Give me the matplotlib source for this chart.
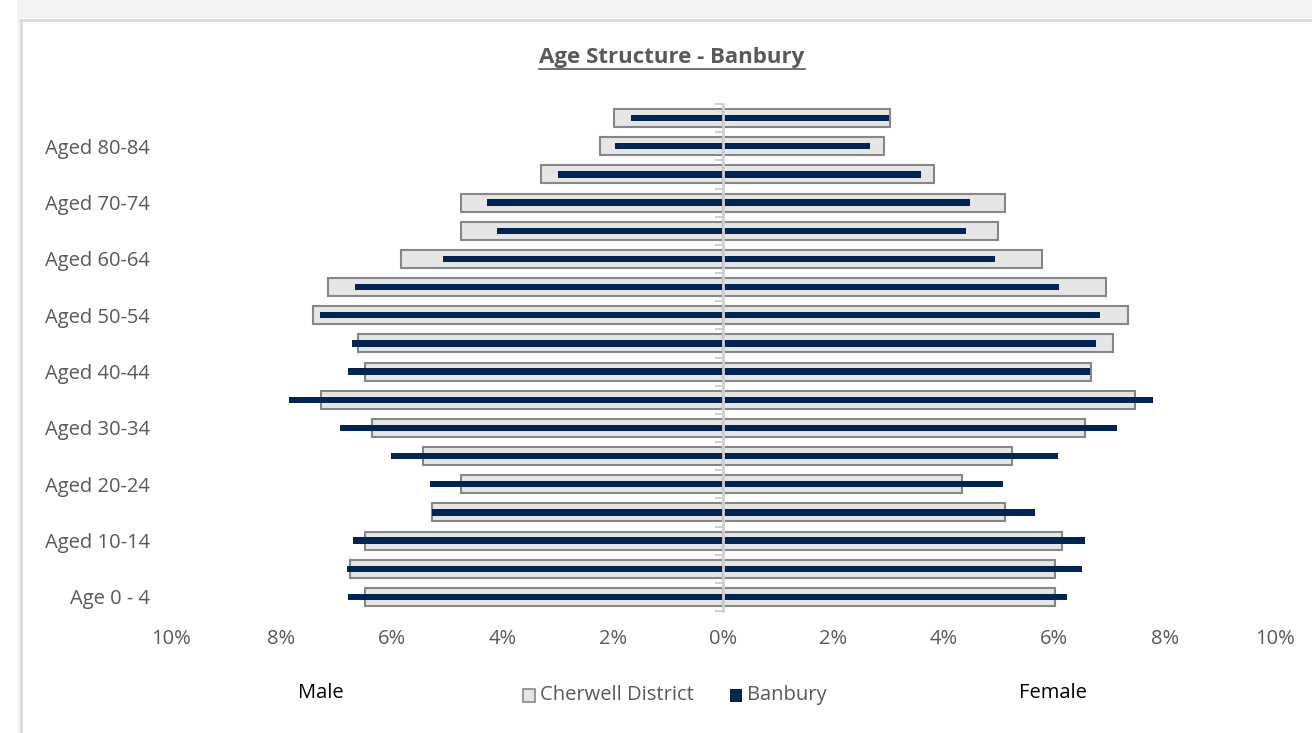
import numpy as np
import matplotlib.pyplot as plt
from matplotlib.patches import Rectangle
from matplotlib.lines import Line2D

plt.rcParams['font.family'] = ['Open Sans', 'DejaVu Sans']

ages = ["Age 0 - 4", "Aged 5-9", "Aged 10-14", "Aged 15-19", "Aged 20-24", "Aged 25-29",
        "Aged 30-34", "Aged 35-39", "Aged 40-44", "Aged 45-49", "Aged 50-54", "Aged 55-59",
        "Aged 60-64", "Aged 65-69", "Aged 70-74", "Aged 75-79", "Aged 80-84", "Aged 85+"]

# percentages of total population
cherwell_male = [6.49, 6.76, 6.49, 5.28, 4.75, 5.43, 6.36, 7.29, 6.49, 6.62,
                 7.43, 7.16, 5.83, 4.75, 4.75, 3.30, 2.23, 1.98]
banbury_male = [6.79, 6.82, 6.70, 5.27, 5.31, 6.02, 6.93, 7.87, 6.80, 6.72,
                7.30, 6.67, 5.08, 4.09, 4.27, 2.99, 1.95, 1.67]
cherwell_female = [6.01, 6.01, 6.15, 5.11, 4.33, 5.24, 6.55, 7.46, 6.67, 7.07,
                   7.33, 6.93, 5.77, 4.98, 5.11, 3.82, 2.91, 3.02]
banbury_female = [6.23, 6.50, 6.55, 5.66, 5.07, 6.06, 7.13, 7.79, 6.64, 6.76,
                  6.83, 6.09, 4.92, 4.40, 4.47, 3.59, 2.67, 3.00]

xticks = [-10, -8, -6, -4, -2, 0, 2, 4, 6, 8, 10]

grey_fill = '#e6e6e6'
grey_edge = '#878787'
navy = '#002456'
txt = '#595959'
fs = 14.5

fig = plt.figure(figsize=(13.12, 7.33), dpi=100)
W, H = 1312, 733

# frame around the chart like the spreadsheet screenshot
fig.patches.append(Rectangle((17 / W, 1 - 18 / H), 1, 18 / H, transform=fig.transFigure,
                             facecolor='#f3f3f3', edgecolor='none', zorder=0))
fig.patches.append(Rectangle((17 / W, 0), 3 / W, 1, transform=fig.transFigure,
                             facecolor='#f3f3f3', edgecolor='none', zorder=0))
fig.lines.append(Line2D([20 / W, 1], [1 - 19.5 / H, 1 - 19.5 / H], transform=fig.transFigure,
                        color='#d9d9d9', lw=2))
fig.lines.append(Line2D([20.5 / W, 20.5 / W], [0, 1 - 19.5 / H], transform=fig.transFigure,
                        color='#d9d9d9', lw=2))

ax = fig.add_axes([171 / W, 1 - 611 / H, 1104 / W, 507 / H])
y = np.arange(len(ages))

ax.barh(y, -np.array(cherwell_male), height=0.64, color=grey_fill, edgecolor=grey_edge,
        linewidth=1.5, zorder=2)
ax.barh(y, cherwell_female, height=0.64, color=grey_fill, edgecolor=grey_edge,
        linewidth=1.5, zorder=2)
ax.barh(y, -np.array(banbury_male), height=0.22, color=navy, zorder=3)
ax.barh(y, banbury_female, height=0.22, color=navy, zorder=3)

ax.set_xlim(-10, 10)
ax.set_ylim(-0.5, len(ages) - 0.5)
ax.set_xticks(xticks)
ax.set_xticklabels([f"{abs(v)}%" for v in xticks])
ax.set_yticks(y[::2])
ax.set_yticklabels(ages[::2])
ax.tick_params(axis='both', length=0, colors=txt, labelsize=fs)
ax.tick_params(axis='y', pad=15)
ax.tick_params(axis='x', pad=13)
for s in ax.spines.values():
    s.set_visible(False)

# centre axis with category ticks
cax = ax.secondary_yaxis(0.5)
cax.set_yticks(np.arange(-0.5, len(ages), 1.0))
cax.set_yticklabels([])
cax.yaxis.set_ticks_position('left')
cax.tick_params(axis='y', direction='out', length=6, width=1.5, color='#d0d0d0')
for s in cax.spines.values():
    s.set_color('#d0d0d0')
    s.set_linewidth(2)
cax.set_zorder(4)

# title, underlined
t = fig.text(672 / W, 1 - 57 / H, "Age Structure - Banbury", ha='center', va='center',
             fontsize=16, fontweight='bold', color=txt)
fig.canvas.draw()
bb = t.get_window_extent()
fig.lines.append(Line2D([bb.x0 / W, bb.x1 / W], [(bb.y0 - 1) / H, (bb.y0 - 1) / H],
                        transform=fig.transFigure, color=txt, lw=1.2))

fig.text(321 / W, 1 - 693 / H, "Male", ha='center', va='center', fontsize=fs, color='black')
fig.text(1053 / W, 1 - 693 / H, "Female", ha='center', va='center', fontsize=fs, color='black')

# legend
fig.patches.append(Rectangle((523 / W, 1 - 702 / H), 12 / W, 13 / H, transform=fig.transFigure,
                             facecolor=grey_fill, edgecolor=grey_edge, lw=1.2))
fig.text(540 / W, 1 - 695 / H, "Cherwell District", ha='left', va='center', fontsize=fs, color=txt)
fig.patches.append(Rectangle((730 / W, 1 - 702 / H), 12 / W, 13 / H, transform=fig.transFigure,
                             facecolor=navy, edgecolor='none'))
fig.text(747 / W, 1 - 695 / H, "Banbury", ha='left', va='center', fontsize=fs, color=txt)

fig.savefig("out.png", dpi=100)
